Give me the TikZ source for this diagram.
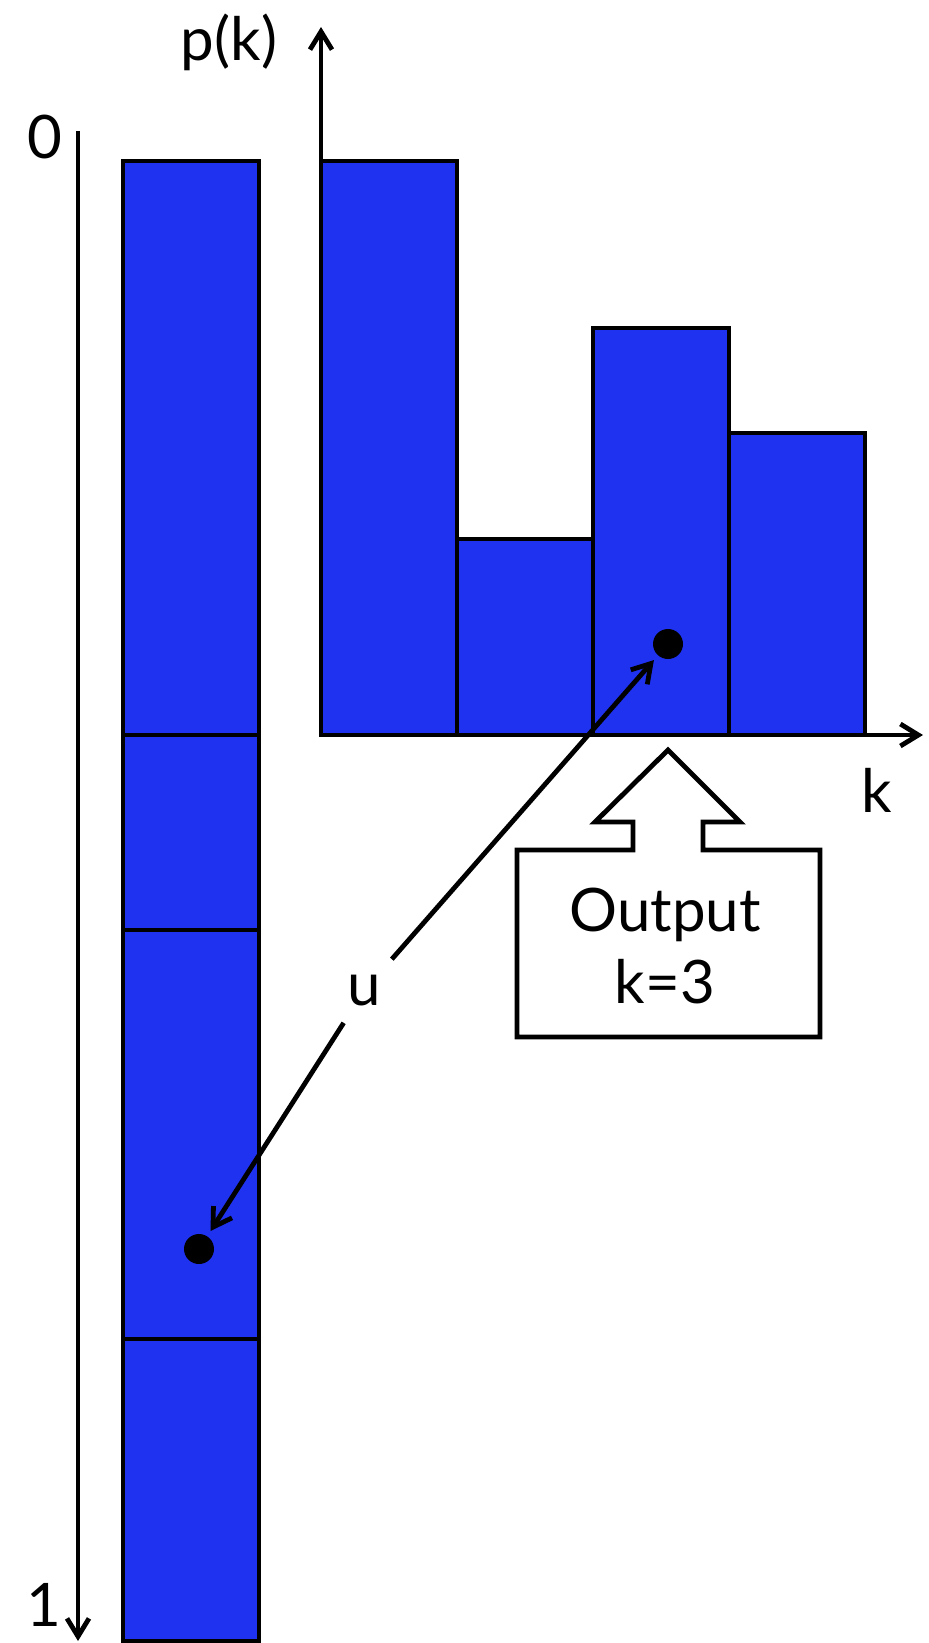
\documentclass[tikz,border=0pt]{standalone}
\usepackage{fontspec}
\setmainfont{Lato}
\usetikzlibrary{arrows.meta}
\definecolor{kek}{RGB}{31,50,240}
\tikzset{
  tengely/.style={line width=2.4pt,-{Straight Barb[length=9pt,width=11pt]}},
  oszlop/.style={draw,fill=kek,line width=2.4pt},
  golyo/.style={circle,fill,inner sep=0pt,minimum size=15pt},
  doboz/.style={draw,fill=white,line width=2.4pt},
}
\begin{document}
\begin{tikzpicture}[x=0.5pt,y=-0.5pt,font=\fontsize{30}{36}\selectfont]
  \useasboundingbox (0,0) rectangle (928,1643);
  % bal oszlop: a p(k) ertekek egymas alatt
  \draw[oszlop] (123,161) rectangle (259,735);
  \draw[oszlop] (123,735) rectangle (259,930);
  \draw[oszlop] (123,930) rectangle (259,1339);
  \draw[oszlop] (123,1339) rectangle (259,1641);
  % hisztogram
  \draw[oszlop] (321,161) rectangle (457,735);
  \draw[oszlop] (457,539) rectangle (593,735);
  \draw[oszlop] (593,328) rectangle (729,735);
  \draw[oszlop] (729,433) rectangle (865,735);
  % tengelyek
  \coordinate (o) at (321,735);
  \coordinate (yv) at (321,27);
  \coordinate (xv) at (923,735);
  \coordinate (bf) at (78,131);
  \coordinate (ba) at (78,1641);
  \draw[tengely] (bf) -- (ba);
  \draw[tengely] (o) -- (yv);
  \draw[tengely] (o) -- (xv);
  \node (nulla) at (45,137) {0};
  \node (egy) at (44,1605) {1};
  \node (pk) at (229,42) {p(k)};
  \node (k) at (877,790) {k};
  % u
  \node[golyo] (g1) at (668,644) {};
  \node[golyo] (g2) at (199,1249) {};
  \node[inner sep=8pt] (u) at (364,991) {u};
  \draw[tengely,shorten >=3pt] (u) -- (g1);
  \draw[tengely,shorten >=3pt] (u) -- (g2);
  % kimenet
  \draw[doboz] (668,750) -- (740,822) -- (703,822) -- (703,850) -- (820,850)
    -- (820,1037) -- (517,1037) -- (517,850) -- (633,850) -- (633,822)
    -- (595,822) -- cycle;
  \node[align=center] (kimenet) at (665,946) {Output\\k=3};
\end{tikzpicture}
\end{document}
